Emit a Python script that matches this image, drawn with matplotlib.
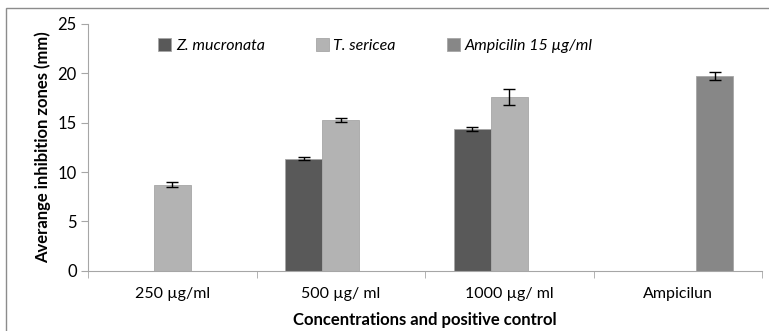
import numpy as np
import matplotlib
matplotlib.use("Agg")
import matplotlib.pyplot as plt
from matplotlib.patches import Rectangle

# data
categories = ["250 \u00b5g/ml", "500 \u00b5g/ ml", "1000 \u00b5g/ ml", "Ampicilun"]
series_names = ["Z. mucronata", "T. sericea", "Ampicilin 15 \u00b5g/ml"]
z_mucronata = [np.nan, 11.35, 14.35, np.nan]
z_mucronata_err = [np.nan, 0.15, 0.2, np.nan]
t_sericea = [8.7, 15.3, 17.6, np.nan]
t_sericea_err = [0.25, 0.2, 0.8, np.nan]
ampicilin = [np.nan, np.nan, np.nan, 19.7]
ampicilin_err = [np.nan, np.nan, np.nan, 0.4]

colors = ["#595959", "#b3b3b3", "#878787"]
W, H = 769, 331

plt.rcParams["font.family"] = ["Lato", "DejaVu Sans"]

fig = plt.figure(figsize=(W / 100, H / 100), dpi=100)
ax = fig.add_axes([88 / W, 1 - 270.7 / H, (762 - 88) / W, (270.7 - 24) / H])

# chart area border (clipped at right/bottom like the reference)
fig.patches.append(Rectangle((6 / W, -0.1), 1.2, 1 - 8 / H + 0.1, transform=fig.transFigure,
                             fill=False, edgecolor="#8c8c8c", linewidth=1.0))

x = np.arange(len(categories))
bw = 0.219
all_vals = [z_mucronata, t_sericea, ampicilin]
all_errs = [z_mucronata_err, t_sericea_err, ampicilin_err]
for k, (vals, errs) in enumerate(zip(all_vals, all_errs)):
    vals = np.array(vals, dtype=float)
    errs = np.array(errs, dtype=float)
    m = ~np.isnan(vals)
    pos = x[m] + (k - 1) * bw
    ax.bar(pos, vals[m], width=bw, color=colors[k], edgecolor="#a6a6a6", linewidth=0.6,
           label=series_names[k], zorder=2)
    ax.errorbar(pos, vals[m], yerr=errs[m], fmt="none", ecolor="black", elinewidth=1,
                capsize=4, capthick=1, zorder=3)

ax.set_xlim(-0.5, 3.5)
ax.set_ylim(0, 25)
ax.set_yticks(np.arange(0, 26, 5))
ax.set_xticks(x)
ax.set_xticklabels(categories, fontsize=11.5)
ax.set_xticks(np.arange(-0.5, 4.0, 1.0), minor=True)
ax.tick_params(axis="x", which="major", length=0, pad=12)
ax.tick_params(axis="x", which="minor", length=5, color="#a6a6a6")
ax.tick_params(axis="y", length=5, color="#a6a6a6", labelsize=12, pad=3)

for s in ["top", "right"]:
    ax.spines[s].set_visible(False)
for s in ["left", "bottom"]:
    ax.spines[s].set_color("#a6a6a6")

ax.set_ylabel("Averange inhibition zones (mm)", fontsize=12, fontweight="bold", labelpad=5)
ax.set_xlabel("Concentrations and positive control", fontsize=12, fontweight="bold", labelpad=8)

ax.legend(loc="upper left", bbox_to_anchor=(0.083, 1.0), ncol=3, frameon=False,
          prop={"style": "italic", "size": 11.5}, handlelength=0.8, handleheight=0.8,
          handletextpad=0.3, columnspacing=3.2)

fig.savefig("out.png", dpi=100)
